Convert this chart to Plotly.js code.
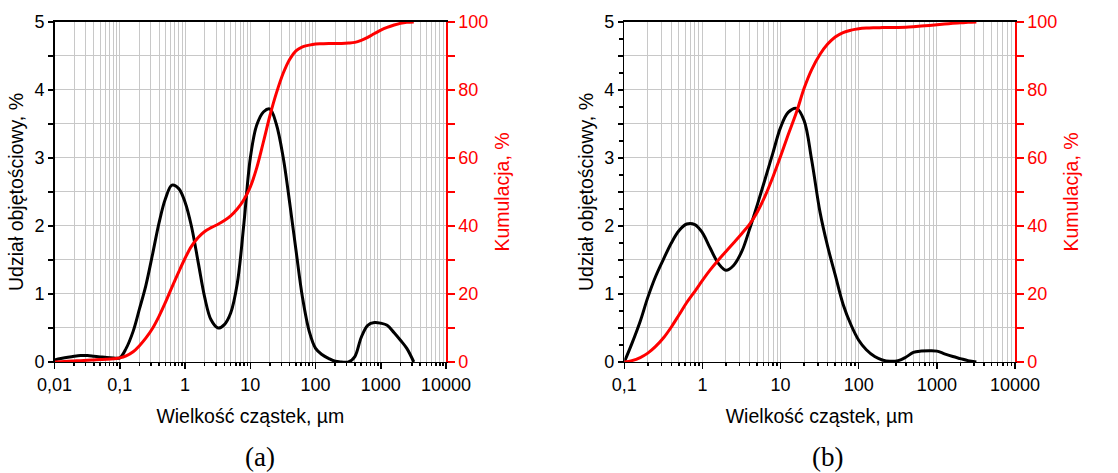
<!DOCTYPE html>
<html>
<head>
<meta charset="utf-8">
<script src="https://cdn.plot.ly/plotly-3.0.1.min.js"></script>
<style>html,body{margin:0;padding:0;background:#fff;}#chart{width:1118px;height:473px;}</style>
</head>
<body>
<div id="chart"></div>
<script>
// ---- Data: panel (a) ----
const aBlackX = [0.01, 0.0125, 0.016, 0.02, 0.025, 0.032, 0.04, 0.05, 0.063, 0.08, 0.1, 0.125, 0.16, 0.2, 0.25, 0.32, 0.4, 0.5, 0.63, 0.8, 1.0, 1.25, 1.6, 2.0, 2.5, 3.2, 4.0, 5.0, 6.3, 8.0, 10, 12.5, 16, 20, 25, 32, 40, 50, 63, 80, 100, 125, 160, 200, 250, 320, 400, 500, 630, 800, 1000, 1250, 1600, 2000, 2500, 3200];
const aBlackY = [0.03, 0.05, 0.07, 0.085, 0.095, 0.095, 0.085, 0.075, 0.065, 0.06, 0.06, 0.2, 0.45, 0.78, 1.12, 1.6, 2.05, 2.4, 2.6, 2.55, 2.35, 2.0, 1.45, 0.95, 0.62, 0.5, 0.55, 0.72, 1.15, 2.05, 3.0, 3.48, 3.68, 3.72, 3.5, 3.0, 2.35, 1.65, 0.95, 0.45, 0.2, 0.11, 0.05, 0.01, 0.0, 0.0, 0.08, 0.36, 0.54, 0.58, 0.57, 0.54, 0.43, 0.32, 0.2, 0.0];
const aRedX = [0.01, 0.0125, 0.016, 0.02, 0.025, 0.032, 0.04, 0.05, 0.063, 0.08, 0.1, 0.125, 0.16, 0.2, 0.25, 0.32, 0.4, 0.5, 0.63, 0.8, 1.0, 1.25, 1.6, 2.0, 2.5, 3.2, 4.0, 5.0, 6.3, 8.0, 10, 12.5, 16, 20, 25, 32, 40, 50, 63, 80, 100, 125, 160, 200, 250, 320, 400, 500, 630, 800, 1000, 1250, 1600, 2000, 2500, 3200];
const aRedY = [0, 0.1, 0.2, 0.3, 0.4, 0.5, 0.6, 0.7, 0.8, 0.95, 1.2, 1.8, 3.0, 4.8, 7.0, 10, 13.5, 17.5, 22, 26.5, 30.5, 34, 36.7, 38.4, 39.5, 40.5, 41.6, 43, 45, 47.8, 51.5, 57, 65, 72.5, 79, 85, 89, 91.5, 92.7, 93.2, 93.5, 93.6, 93.7, 93.7, 93.7, 93.8, 94, 94.6, 95.5, 96.6, 97.6, 98.4, 99.1, 99.6, 99.9, 100];

// ---- Data: panel (b) ----
const bBlackX = [0.1, 0.125, 0.16, 0.2, 0.25, 0.32, 0.4, 0.5, 0.63, 0.8, 1.0, 1.25, 1.6, 2.0, 2.5, 3.2, 4.0, 5.0, 6.3, 8.0, 10, 12.5, 16, 20, 25, 32, 40, 50, 63, 80, 100, 125, 160, 200, 250, 320, 400, 500, 630, 800, 1000, 1250, 1600, 2000, 2500, 3200];
const bBlackY = [0, 0.27, 0.6, 0.95, 1.25, 1.52, 1.75, 1.93, 2.03, 2.02, 1.9, 1.68, 1.45, 1.35, 1.42, 1.63, 1.95, 2.3, 2.68, 3.08, 3.45, 3.67, 3.73, 3.55, 2.97, 2.2, 1.7, 1.28, 0.85, 0.54, 0.32, 0.18, 0.08, 0.03, 0.01, 0.02, 0.07, 0.14, 0.16, 0.165, 0.16, 0.12, 0.08, 0.05, 0.02, 0.0];
const bRedX = [0.1, 0.125, 0.16, 0.2, 0.25, 0.32, 0.4, 0.5, 0.63, 0.8, 1.0, 1.25, 1.6, 2.0, 2.5, 3.2, 4.0, 5.0, 6.3, 8.0, 10, 12.5, 16, 20, 25, 32, 40, 50, 63, 80, 100, 125, 160, 200, 250, 320, 400, 500, 630, 800, 1000, 1250, 1600, 2000, 2500, 3200];
const bRedY = [0, 0.4, 1.3, 2.6, 4.5, 7.2, 10.3, 13.8, 17.5, 20.8, 24, 27, 30, 32.5, 35, 37.8, 40.5, 44, 48.7, 54.5, 60.5, 66.8, 73.5, 80.5, 86, 90.5, 93.5, 95.6, 96.9, 97.6, 98, 98.2, 98.3, 98.35, 98.4, 98.4, 98.45, 98.6, 98.8, 99.0, 99.2, 99.4, 99.6, 99.75, 99.9, 100];

// ---- Tick labels ----
const aTickVals = [0.01, 0.1, 1, 10, 100, 1000, 10000];
const aTickText = ['0,01', '0,1', '1', '10', '100', '1000', '10000'];
const bTickVals = [0.1, 1, 10, 100, 1000, 10000];
const bTickText = ['0,1', '1', '10', '100', '1000', '10000'];
const leftVals = [0, 0.5, 1, 1.5, 2, 2.5, 3, 3.5, 4, 4.5, 5];
const leftText = ['0', '', '1', '', '2', '', '3', '', '4', '', '5'];
const rightVals = [0, 10, 20, 30, 40, 50, 60, 70, 80, 90, 100];
const rightText = ['0', '', '20', '', '40', '', '60', '', '80', '', '100'];

const xTitle = 'Wielkość cząstek, µm';
const yLeftTitle = 'Udział objętościowy, %';
const yRightTitle = 'Kumulacja, %';

const FONT = 'Liberation Sans, Arial, sans-serif';
const GRID = '#c8c8c8';
const RED = '#ff0000';
const TITLE_SIZE = 19.5;

function xAxis(domain, range, vals, text) {
  return {
    type: 'log', domain: domain, range: range,
    tickvals: vals, ticktext: text,
    ticks: 'outside', ticklen: 6, tickwidth: 1.5, tickcolor: '#000',
    showline: true, linecolor: '#000', linewidth: 1.5, mirror: true,
    showgrid: true, gridcolor: GRID, gridwidth: 1,
    minor: {dtick: 'D1', showgrid: true, gridcolor: GRID, gridwidth: 1, ticks: 'outside', ticklen: 3, tickcolor: '#000'},
    zeroline: false,
    tickfont: {family: FONT, size: 18, color: '#000'},
    title: {text: xTitle, font: {family: FONT, size: TITLE_SIZE, color: '#000'}, standoff: 15},
    fixedrange: true
  };
}
function yLeft(anchor, minorTicks) {
  const ax = {
    anchor: anchor, domain: [0.2347, 0.9535], range: [0, 5],
    tickvals: leftVals, ticktext: leftText,
    ticks: 'outside', ticklen: 5, tickwidth: 1.5, tickcolor: '#000',
    showline: true, linecolor: '#000', linewidth: 1.5,
    showgrid: true, gridcolor: GRID, gridwidth: 1, zeroline: false,
    tickfont: {family: FONT, size: 18, color: '#000'},
    title: {text: yLeftTitle, font: {family: FONT, size: TITLE_SIZE, color: '#000'}, standoff: 5},
    fixedrange: true
  };
  if (minorTicks) ax.minor = {dtick: 0.25, ticks: 'outside', ticklen: 4, tickcolor: '#000', showgrid: false};
  return ax;
}
function yRight(anchor, overlay) {
  return {
    anchor: anchor, overlaying: overlay, side: 'right', range: [0, 100],
    tickvals: rightVals, ticktext: rightText,
    ticks: 'outside', ticklen: 7, tickwidth: 1.5, tickcolor: RED,
    showline: true, linecolor: RED, linewidth: 1.5,
    showgrid: false, zeroline: false,
    tickfont: {family: FONT, size: 18, color: RED},
    title: {text: yRightTitle, font: {family: FONT, size: TITLE_SIZE, color: RED}, standoff: 8},
    fixedrange: true
  };
}

const lineBlack = {color: '#000', width: 3, shape: 'spline', smoothing: 1};
const lineRed = {color: RED, width: 3, shape: 'spline', smoothing: 1};

const traces = [
  {x: aBlackX, y: aBlackY, xaxis: 'x', yaxis: 'y', mode: 'lines', line: lineBlack, hoverinfo: 'skip'},
  {x: aRedX, y: aRedY, xaxis: 'x', yaxis: 'y2', mode: 'lines', line: lineRed, hoverinfo: 'skip'},
  {x: bBlackX, y: bBlackY, xaxis: 'x2', yaxis: 'y3', mode: 'lines', line: lineBlack, hoverinfo: 'skip'},
  {x: bRedX, y: bRedY, xaxis: 'x2', yaxis: 'y4', mode: 'lines', line: lineRed, hoverinfo: 'skip'}
];

const layout = {
  width: 1118, height: 473,
  margin: {l: 0, r: 0, t: 0, b: 0},
  paper_bgcolor: '#fff', plot_bgcolor: '#fff',
  showlegend: false,
  font: {family: FONT, size: 18, color: '#000'},
  xaxis: Object.assign(xAxis([0.0488, 0.3990], [-2, 4], aTickVals, aTickText), {anchor: 'y'}),
  yaxis: yLeft('x', false),
  yaxis2: yRight('x', 'y'),
  xaxis2: Object.assign(xAxis([0.5584, 0.9079], [-1, 4], bTickVals, bTickText), {anchor: 'y3'}),
  yaxis3: yLeft('x2', true),
  yaxis4: yRight('x2', 'y3'),
  annotations: [
    {text: '(a)', xref: 'paper', yref: 'paper', x: 260 / 1118, y: 1 - 457 / 473, xanchor: 'center', yanchor: 'middle', showarrow: false, font: {family: 'Liberation Serif, Times New Roman, serif', size: 27, color: '#000'}},
    {text: '(b)', xref: 'paper', yref: 'paper', x: 827 / 1118, y: 1 - 457 / 473, xanchor: 'center', yanchor: 'middle', showarrow: false, font: {family: 'Liberation Serif, Times New Roman, serif', size: 27, color: '#000'}}
  ]
};

Plotly.newPlot('chart', traces, layout, {displayModeBar: false, staticPlot: true});
</script>
</body>
</html>
